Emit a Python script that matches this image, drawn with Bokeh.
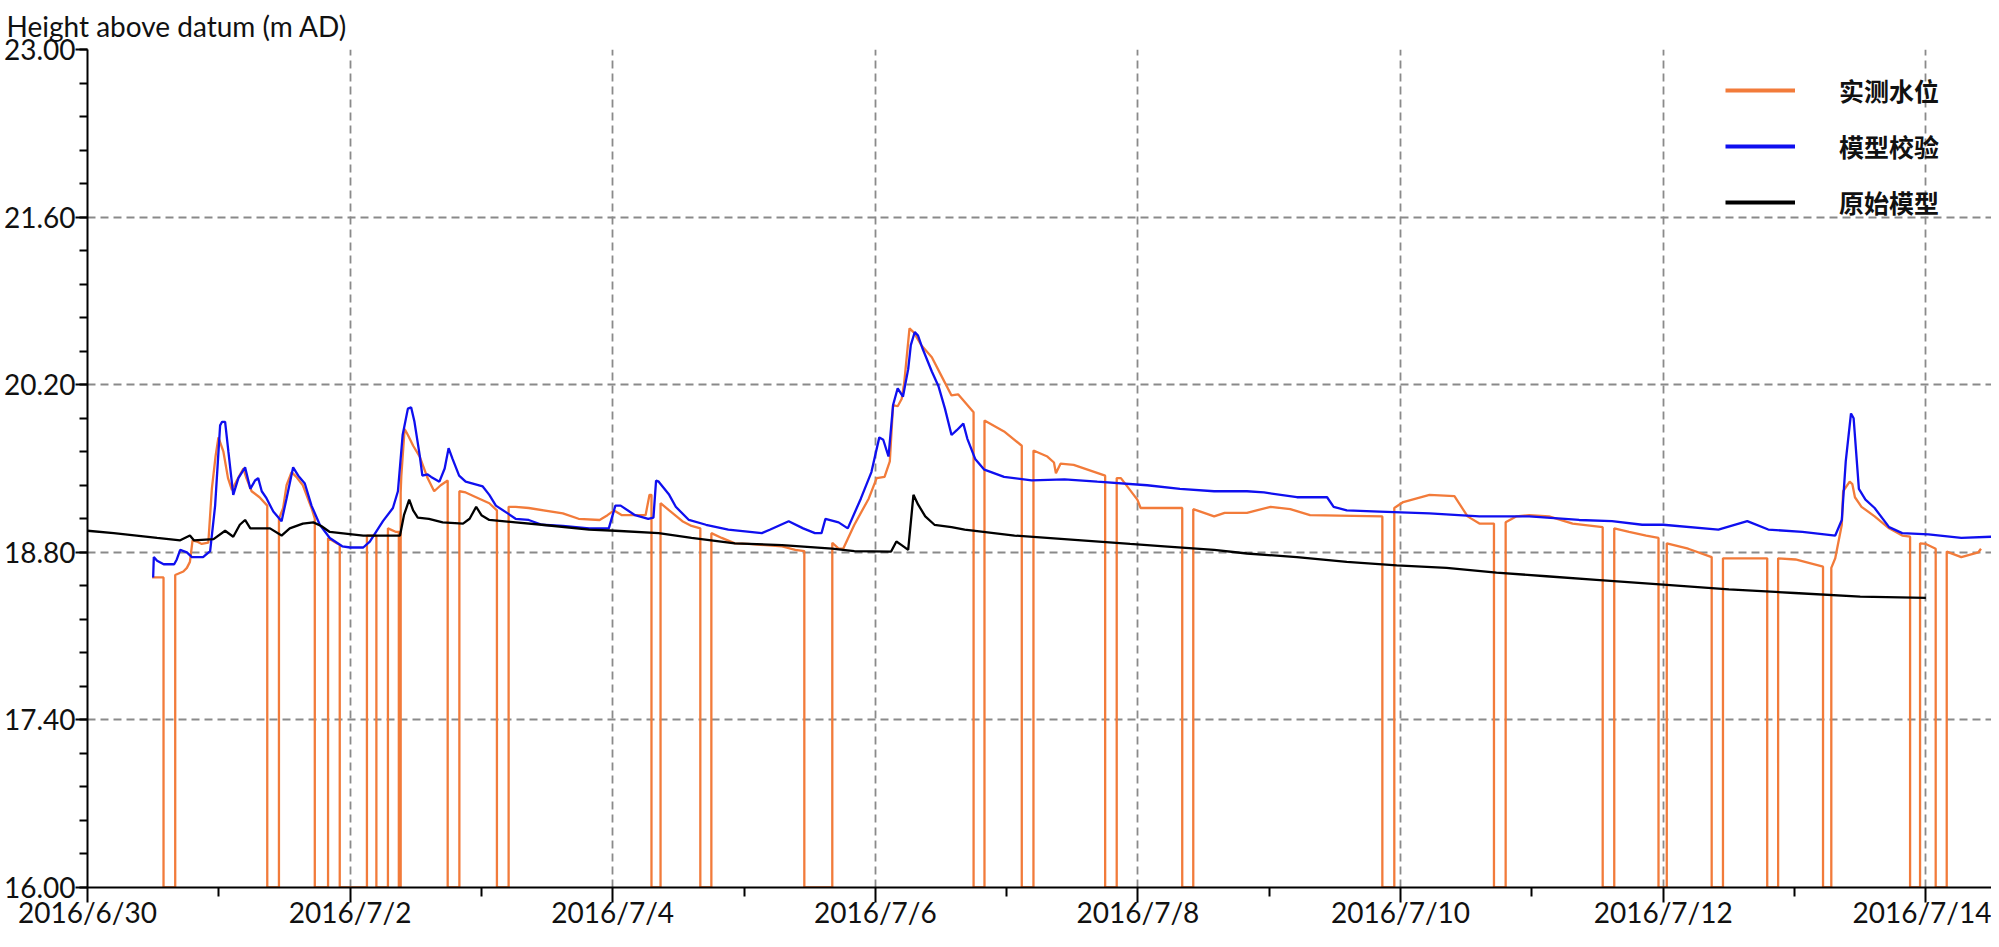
from bokeh.plotting import figure
from bokeh.models import FixedTicker, PrintfTickFormatter, Legend, LegendItem, Range1d
from bokeh.embed import file_html
from bokeh.resources import INLINE

# x values: days since 2016-06-30 00:00
x_tick_days = [0, 2, 4, 6, 8, 10, 12, 14]
x_tick_labels = ["2016/6/30", "2016/7/2", "2016/7/4", "2016/7/6",
                 "2016/7/8", "2016/7/10", "2016/7/12", "2016/7/14"]
x_minor_days = [1, 3, 5, 7, 9, 11, 13]
y_ticks = [16.0, 17.4, 18.8, 20.2, 21.6, 23.0]
y_minor = [16.0 + 0.28 * i for i in range(26)]

series_names = ["实测水位", "模型校验", "原始模型"]

# measured water level (drop-outs go down to the bottom of the axis)
meas_t = [0.492, 0.579, 0.579, 0.668, 0.668, 0.73, 0.757, 0.78, 0.80, 0.833, 0.87, 0.92,
          0.947, 0.975, 0.997, 1.035, 1.07, 1.10, 1.137, 1.187, 1.21, 1.25, 1.31, 1.369,
          1.369, 1.458, 1.458, 1.49, 1.516, 1.554, 1.59, 1.64, 1.706, 1.731,
          1.731, 1.832, 1.832, 1.908, 1.921,
          1.921, 2.128, 2.128, 2.200,
          2.200, 2.288, 2.288, 2.35, 2.371,
          2.371, 2.385, 2.385, 2.39, 2.415, 2.44, 2.48, 2.53, 2.59, 2.64, 2.69, 2.743,
          2.743, 2.832, 2.832, 2.88, 2.98, 3.06, 3.118,
          3.118, 3.207, 3.207, 3.26, 3.36, 3.62, 3.74, 3.90, 3.96, 4.01, 4.07, 4.25, 4.28, 4.295,
          4.295, 4.364, 4.364, 4.43, 4.53, 4.60, 4.667,
          4.667, 4.751, 4.751, 4.83, 4.93, 5.03, 5.29, 5.39, 5.459,
          5.459, 5.672, 5.672, 5.72, 5.755, 5.84, 5.95, 6.01, 6.07, 6.11, 6.135, 6.17, 6.20,
          6.22, 6.26, 6.29, 6.35, 6.43, 6.50, 6.58, 6.63, 6.748,
          6.748, 6.831, 6.831, 6.98, 7.115,
          7.115, 7.204, 7.204, 7.31, 7.36, 7.375, 7.41, 7.51, 7.75,
          7.75, 7.838, 7.838, 7.87, 7.995, 8.02, 8.337,
          8.337, 8.421, 8.421, 8.58, 8.66, 8.83, 9.01, 9.16, 9.31, 9.861,
          9.861, 9.952, 9.952, 10.02, 10.22, 10.41, 10.51, 10.60, 10.711,
          10.711, 10.80, 10.80, 10.88, 10.98, 11.13, 11.31, 11.539,
          11.539, 11.627, 11.627, 11.74, 11.87, 11.964,
          11.964, 12.027, 12.027, 12.19, 12.369,
          12.369, 12.455, 12.455, 12.792,
          12.792, 12.875, 12.875, 13.007, 13.217,
          13.217, 13.28, 13.28, 13.31, 13.36, 13.37, 13.42, 13.44, 13.46, 13.51, 13.61, 13.72,
          13.82, 13.88,
          13.88, 13.956, 13.956, 14.0, 14.075,
          14.075, 14.159, 14.159, 14.27, 14.40, 14.42]
meas_v = [18.59, 18.59, 16.0, 16.0, 18.61, 18.64, 18.67, 18.72, 18.90, 18.89, 18.87, 18.88,
          19.33, 19.60, 19.76, 19.64, 19.42, 19.32, 19.40, 19.50, 19.42, 19.31, 19.26, 19.19,
          16.0, 16.0, 19.08, 19.17, 19.36, 19.47, 19.43, 19.36, 19.17, 19.08,
          16.0, 16.0, 18.92, 18.87, 18.86,
          16.0, 16.0, 18.94, 18.94,
          16.0, 16.0, 19.00, 18.97, 18.97,
          16.0, 16.0, 19.30, 19.44, 19.83, 19.78, 19.69, 19.60, 19.42, 19.31, 19.36, 19.40,
          16.0, 16.0, 19.31, 19.30, 19.25, 19.21, 19.15,
          16.0, 16.0, 19.18, 19.18, 19.17, 19.125, 19.08, 19.07, 19.11, 19.15, 19.11, 19.11, 19.28, 19.28,
          16.0, 16.0, 19.21, 19.15, 19.06, 19.02, 19.00,
          16.0, 16.0, 18.96, 18.92, 18.875, 18.87, 18.85, 18.82, 18.81,
          16.0, 16.0, 18.88, 18.83, 18.83, 19.03, 19.25, 19.42, 19.43, 19.56, 20.03, 20.02, 20.08,
          20.22, 20.67, 20.64, 20.53, 20.43, 20.28, 20.11, 20.12, 19.97,
          16.0, 16.0, 19.90, 19.81, 19.69,
          16.0, 16.0, 19.65, 19.60, 19.55, 19.46, 19.54, 19.53, 19.44,
          16.0, 16.0, 19.42, 19.42, 19.24, 19.17, 19.17,
          16.0, 16.0, 19.16, 19.10, 19.13, 19.13, 19.18, 19.16, 19.11, 19.10,
          16.0, 16.0, 19.17, 19.22, 19.28, 19.27, 19.10, 19.04, 19.04,
          16.0, 16.0, 19.05, 19.10, 19.11, 19.10, 19.04, 19.01,
          16.0, 16.0, 19.00, 18.97, 18.94, 18.92,
          16.0, 16.0, 18.875, 18.83, 18.76,
          16.0, 16.0, 18.75, 18.75,
          16.0, 16.0, 18.75, 18.74, 18.68,
          16.0, 16.0, 18.67, 18.75, 19.03, 19.31, 19.39, 19.37, 19.26, 19.18, 19.10, 19.00,
          18.94, 18.93,
          16.0, 16.0, 18.875, 18.87, 18.83,
          16.0, 16.0, 18.806, 18.76, 18.80, 18.83]

# calibrated model
calib_t = [0.50, 0.505, 0.53, 0.58, 0.66, 0.68, 0.706, 0.757, 0.795, 0.88, 0.934, 0.972,
           1.01, 1.025, 1.048, 1.073, 1.11, 1.149, 1.20, 1.24, 1.276, 1.30, 1.327, 1.364,
           1.415, 1.478, 1.516, 1.566, 1.605, 1.655, 1.706, 1.769, 1.845, 1.94, 2.0, 2.10,
           2.15, 2.25, 2.326, 2.364, 2.40, 2.44, 2.465, 2.49, 2.53, 2.55, 2.59, 2.617, 2.68,
           2.72, 2.75, 2.78, 2.83, 2.88, 3.01, 3.06, 3.11, 3.20, 3.26, 3.36, 3.46, 3.62,
           3.82, 3.97, 4.02, 4.06, 4.17, 4.27, 4.31, 4.33, 4.35, 4.43, 4.48, 4.58, 4.71,
           4.88, 5.135, 5.20, 5.34, 5.45, 5.54, 5.59, 5.62, 5.72, 5.79, 5.89, 5.97, 6.03,
           6.06, 6.10, 6.135, 6.17, 6.21, 6.25, 6.27, 6.30, 6.325, 6.36, 6.43, 6.48, 6.53,
           6.58, 6.62, 6.67, 6.70, 6.76, 6.83, 6.98, 7.19, 7.44, 7.69, 8.07, 8.32, 8.58,
           8.83, 8.96, 9.21, 9.44, 9.49, 9.59, 9.84, 10.22, 10.60, 10.98, 11.36, 11.61,
           11.84, 12.0, 12.42, 12.64, 12.80, 13.06, 13.31, 13.36, 13.39, 13.43, 13.45,
           13.49, 13.54, 13.61, 13.72, 13.82, 14.02, 14.27, 14.50]
calib_v = [18.59, 18.76, 18.73, 18.70, 18.70, 18.74, 18.82, 18.80, 18.76, 18.76, 18.81, 19.19,
           19.86, 19.89, 19.89, 19.64, 19.28, 19.42, 19.51, 19.33, 19.40, 19.42, 19.31, 19.25,
           19.14, 19.06, 19.25, 19.51, 19.44, 19.375, 19.19, 19.03, 18.92, 18.85, 18.84, 18.84,
           18.89, 19.06, 19.17, 19.31, 19.78, 20.00, 20.01, 19.89, 19.61, 19.44, 19.45, 19.43, 19.39,
           19.50, 19.67, 19.58, 19.44, 19.39, 19.35, 19.28, 19.19, 19.125, 19.08, 19.07, 19.03, 19.02,
           19.00, 19.00, 19.19, 19.19, 19.11, 19.08, 19.09, 19.40, 19.39, 19.28, 19.18, 19.07, 19.03,
           18.99, 18.96, 18.99, 19.06, 19.00, 18.96, 18.96, 19.08, 19.05, 19.00, 19.25, 19.47, 19.76,
           19.74, 19.60, 20.03, 20.17, 20.10, 20.33, 20.53, 20.64, 20.61, 20.50, 20.31, 20.19, 20.00,
           19.78, 19.82, 19.875, 19.75, 19.58, 19.49, 19.43, 19.40, 19.41, 19.39, 19.36, 19.33, 19.31,
           19.31, 19.30, 19.26, 19.26, 19.18, 19.15, 19.14, 19.125, 19.10, 19.10, 19.07, 19.06,
           19.03, 19.03, 18.99, 19.06, 18.99, 18.97, 18.94, 19.07, 19.56, 19.96, 19.92,
           19.33, 19.24, 19.17, 19.01, 18.96, 18.95, 18.92, 18.93]

# original model
orig_t = [0.0, 0.2, 0.53, 0.706, 0.78, 0.81, 0.96, 1.048, 1.11, 1.16, 1.20, 1.24, 1.39,
          1.478, 1.54, 1.64, 1.72, 1.78, 1.845, 2.1, 2.38, 2.41, 2.45, 2.48, 2.515, 2.6,
          2.705, 2.86, 2.91, 2.96, 3.0, 3.06, 3.26, 3.46, 3.82, 4.02, 4.35, 4.6, 4.93, 5.29,
          5.67, 5.84, 6.12, 6.16, 6.2, 6.25, 6.29, 6.325, 6.38, 6.45, 6.58, 6.68, 7.06, 7.57,
          7.94, 8.2, 8.58, 8.83, 9.21, 9.59, 9.97, 10.35, 10.73, 11.11, 11.49, 12.0, 12.5,
          13.0, 13.5, 14.0]
orig_v = [18.98, 18.96, 18.92, 18.90, 18.94, 18.90, 18.91, 18.98, 18.93, 19.03, 19.07, 19.00, 19.00,
          18.94, 19.00, 19.04, 19.05, 19.02, 18.97, 18.94, 18.94, 19.11, 19.24, 19.15, 19.09, 19.08,
          19.05, 19.04, 19.08, 19.18, 19.11, 19.07, 19.05, 19.03, 18.99, 18.98, 18.96, 18.92, 18.875, 18.86,
          18.83, 18.81, 18.806, 18.89, 18.86, 18.82, 19.28, 19.20, 19.10, 19.03, 19.01, 18.99, 18.94, 18.90,
          18.87, 18.85, 18.82, 18.79, 18.76, 18.72, 18.69, 18.67, 18.63, 18.60, 18.57, 18.53, 18.49,
          18.46, 18.43, 18.42]

ORANGE = "#F27B3A"
BLUE = "#0F0FEF"
BLACK = "#000000"
FONT = "Lato"

p = figure(width=1991, height=931, output_backend="svg", toolbar_location=None,
           x_range=Range1d(0, 14.50), y_range=Range1d(16.0, 23.0),
           min_border_left=0, min_border_right=0, min_border_top=0, min_border_bottom=0)
p.background_fill_color = "white"
p.border_fill_color = "white"
p.outline_line_color = None

p.title.text = "Height above datum (m AD)"
p.title.text_font = FONT
p.title.text_font_size = "28px"
p.title.text_font_style = "normal"
p.title.text_color = "#111111"
p.title.align = "left"
p.title.offset = -81
p.title.standoff = 13

# axes
p.xaxis.ticker = FixedTicker(ticks=x_tick_days, minor_ticks=x_minor_days)
p.xaxis.major_label_overrides = {d: lab for d, lab in zip(x_tick_days, x_tick_labels)}
p.yaxis.ticker = FixedTicker(ticks=y_ticks, minor_ticks=y_minor)
p.yaxis.formatter = PrintfTickFormatter(format="%.2f")
for ax in (p.xaxis[0], p.yaxis[0]):
    ax.axis_line_color = "black"
    ax.axis_line_width = 2
    ax.major_tick_line_color = "black"
    ax.major_tick_line_width = 2
    ax.minor_tick_line_color = "black"
    ax.minor_tick_line_width = 2
    ax.major_tick_in = 0
    ax.minor_tick_in = 0
    ax.major_label_text_font = FONT
    ax.major_label_text_font_size = "28px"
    ax.major_label_text_color = "#111111"
p.xaxis.major_tick_out = 15
p.xaxis.minor_tick_out = 9
p.xaxis.major_label_standoff = -8
p.yaxis.major_tick_out = 12
p.yaxis.minor_tick_out = 8
p.yaxis.major_label_standoff = 0

# grid
for g in (p.xgrid[0], p.ygrid[0]):
    g.grid_line_color = "#8a8a8a"
    g.grid_line_width = 1.8
    g.grid_line_dash = "8 5"

# data lines
p.line(meas_t, meas_v, line_color=ORANGE, line_width=2.3)
p.line(calib_t, calib_v, line_color=BLUE, line_width=2.3)
p.line(orig_t, orig_v, line_color=BLACK, line_width=2.3)

# legend samples drawn thicker than the data lines (hidden copies of the series)
lo = p.line(meas_t, meas_v, line_color=ORANGE, line_width=4, visible=False)
lb = p.line(calib_t, calib_v, line_color=BLUE, line_width=4, visible=False)
lk = p.line(orig_t, orig_v, line_color=BLACK, line_width=4, visible=False)
legend = Legend(items=[LegendItem(label=series_names[0], renderers=[lo]),
                       LegendItem(label=series_names[1], renderers=[lb]),
                       LegendItem(label=series_names[2], renderers=[lk])],
                location=(1638, 667), orientation="vertical",
                glyph_width=70, glyph_height=30, label_height=30, label_standoff=44,
                spacing=20, padding=0, margin=0,
                label_text_font="Noto Sans CJK SC", label_text_font_size="25px",
                label_text_font_style="bold", label_text_color="#111111",
                border_line_color=None, background_fill_alpha=0)
p.add_layout(legend)

open("out.html", "w").write(file_html(p, INLINE))
